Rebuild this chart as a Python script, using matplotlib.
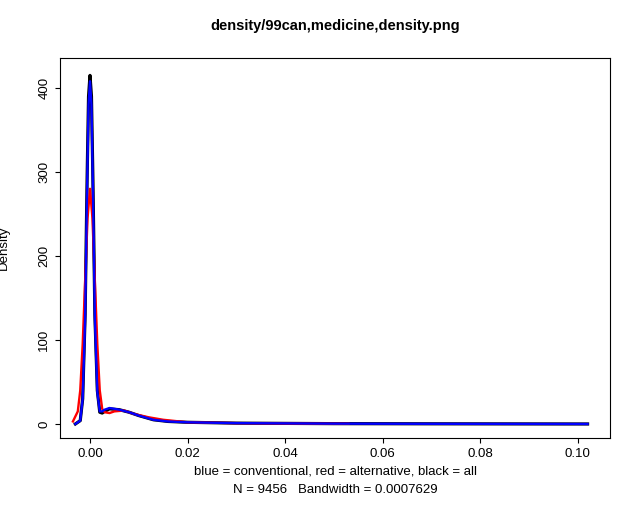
import matplotlib
matplotlib.use("Agg")
import matplotlib.pyplot as plt

plt.rcParams['font.family'] = ['Liberation Sans', 'DejaVu Sans']

all_x = [-0.003, -0.002, -0.0015, -0.001, -0.0006, -0.0003, 0.0, 0.0003, 0.0006, 0.001, 0.0015, 0.002, 0.0025, 0.003, 0.004, 0.006, 0.008, 0.010, 0.013, 0.016, 0.02, 0.03, 0.05, 0.07, 0.102]
all_y = [0, 4, 30, 130, 290, 390, 415, 390, 290, 130, 40, 14, 13, 15, 18, 17, 14, 10, 5, 3, 2, 1, 0.4, 0.2, 0]
conv_x = [-0.003, -0.002, -0.0015, -0.001, -0.0006, -0.0003, 0.0, 0.0003, 0.0006, 0.001, 0.0015, 0.002, 0.0025, 0.003, 0.004, 0.006, 0.008, 0.010, 0.013, 0.016, 0.02, 0.03, 0.05, 0.07, 0.102]
conv_y = [0, 4, 30, 125, 280, 380, 408, 380, 280, 125, 38, 15, 15, 17, 19, 17, 14, 10, 5, 3, 2, 1, 0.4, 0.2, 0]
alt_x = [-0.0035, -0.0025, -0.002, -0.0015, -0.001, -0.0005, 0.0, 0.0005, 0.001, 0.0015, 0.002, 0.0025, 0.003, 0.004, 0.005, 0.007, 0.009, 0.012, 0.015, 0.02, 0.03, 0.04, 0.053]
alt_y = [3, 15, 40, 95, 170, 245, 280, 245, 170, 95, 40, 18, 14, 13, 15, 16, 12, 8, 5, 2, 1, 0.5, 0.3]

fig = plt.figure(figsize=(6.4, 5.12), dpi=100)
ax = fig.add_axes([60/640, 1-438/512, 550/640, 380/512])
ax.plot(all_x, all_y, color='black', lw=2.3)
ax.plot(alt_x, alt_y, color='red', lw=1.7)
ax.plot(conv_x, conv_y, color='blue', lw=1.7)
ax.set_xlim(-0.00615, 0.1066)
ax.set_ylim(-16.7, 435.7)
ax.set_xticks([0, 0.02, 0.04, 0.06, 0.08, 0.10])
ax.set_xticklabels(['0.00', '0.02', '0.04', '0.06', '0.08', '0.10'])
ax.set_yticks([0, 100, 200, 300, 400])
ax.set_yticklabels(['0', '100', '200', '300', '400'], rotation=90, va='center')
ax.tick_params(labelsize=9.5)
ax.set_ylabel('Density', fontsize=9.5, labelpad=12)
ax.yaxis.set_label_coords(-50/550, 0.5)
ax.set_title('density/99can,medicine,density.png', fontsize=10.5, fontweight='bold', pad=20)
fig.text(335/640, 1-472/512, 'blue = conventional, red = alternative, black = all', ha='center', va='center', fontsize=9.5)
fig.text(335/640, 1-490/512, 'N = 9456   Bandwidth = 0.0007629', ha='center', va='center', fontsize=9.5)
fig.savefig('out.png')
